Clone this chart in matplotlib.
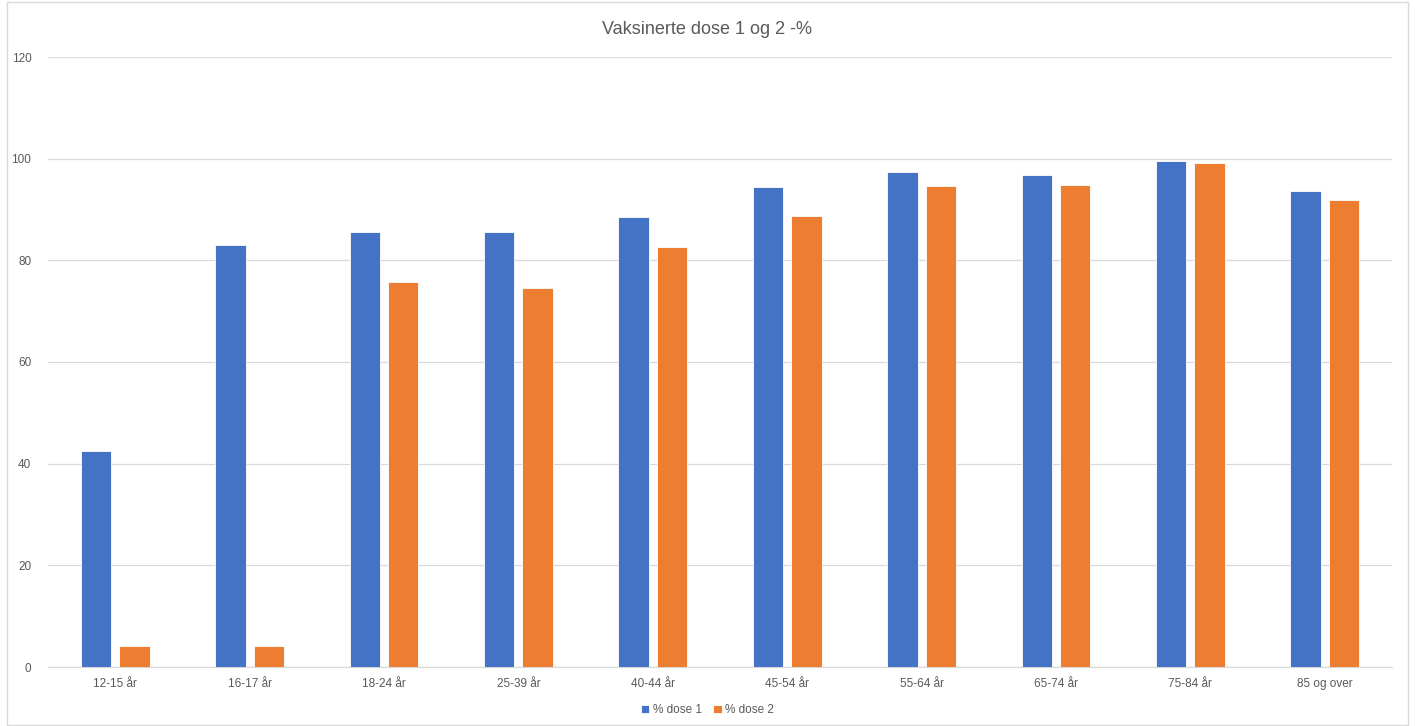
import matplotlib.pyplot as plt
import numpy as np
from matplotlib.patches import Rectangle

# Данные диаграммы
categories = ['12-15 år', '16-17 år', '18-24 år', '25-39 år', '40-44 år',
              '45-54 år', '55-64 år', '65-74 år', '75-84 år', '85 og over']
dose1 = [42.4, 83.0, 85.6, 85.5, 88.6, 94.5, 97.4, 96.8, 99.5, 93.6]
dose2 = [4.1, 4.1, 75.7, 74.6, 82.6, 88.8, 94.7, 94.9, 99.1, 91.9]
yticks = [0, 20, 40, 60, 80, 100, 120]

plt.rcParams['font.family'] = ['Liberation Sans', 'DejaVu Sans']

fig = plt.figure(figsize=(14.15, 7.26), dpi=100)
ax = fig.add_axes([48 / 1415, 1 - 667 / 726, 1344 / 1415, 610 / 726])

x = np.arange(len(categories))
w = 0.225
ax.bar(x - 0.143, dose1, w, color='#4472C4', edgecolor='white', linewidth=0.6, label='% dose 1', zorder=3)
ax.bar(x + 0.143, dose2, w, color='#ED7D31', edgecolor='white', linewidth=0.6, label='% dose 2', zorder=3)

ax.set_xlim(-0.5, len(categories) - 0.5)
ax.set_ylim(0, 120)
ax.set_yticks(yticks)
ax.set_xticks(x)
ax.set_xticklabels(categories)
ax.tick_params(axis='both', length=0, labelsize=8.5, colors='#595959')
ax.tick_params(axis='y', pad=12)
ax.tick_params(axis='x', pad=8)
ax.grid(axis='y', color='#D9D9D9', linewidth=0.9, zorder=0)
for s in ['top', 'right', 'left']:
    ax.spines[s].set_visible(False)
ax.spines['bottom'].set_color('#D9D9D9')
ax.spines['bottom'].set_linewidth(0.9)

fig.text(0.5, 1 - 29 / 726, 'Vaksinerte dose 1 og 2 -%', ha='center', va='center',
         fontsize=13, color='#595959')

fig.legend(loc='center', bbox_to_anchor=(0.5, 1 - 710 / 726), ncol=2, frameon=False,
           fontsize=8.5, labelcolor='#595959', handlelength=0.7, handleheight=0.7,
           handletextpad=0.3, columnspacing=1.0)

# Рамка вокруг диаграммы
fig.patches.append(Rectangle((7 / 1415, 0.002), 1401 / 1415, 0.995, transform=fig.transFigure,
                             fill=False, edgecolor='#D9D9D9', linewidth=1))

plt.savefig('out.png')
